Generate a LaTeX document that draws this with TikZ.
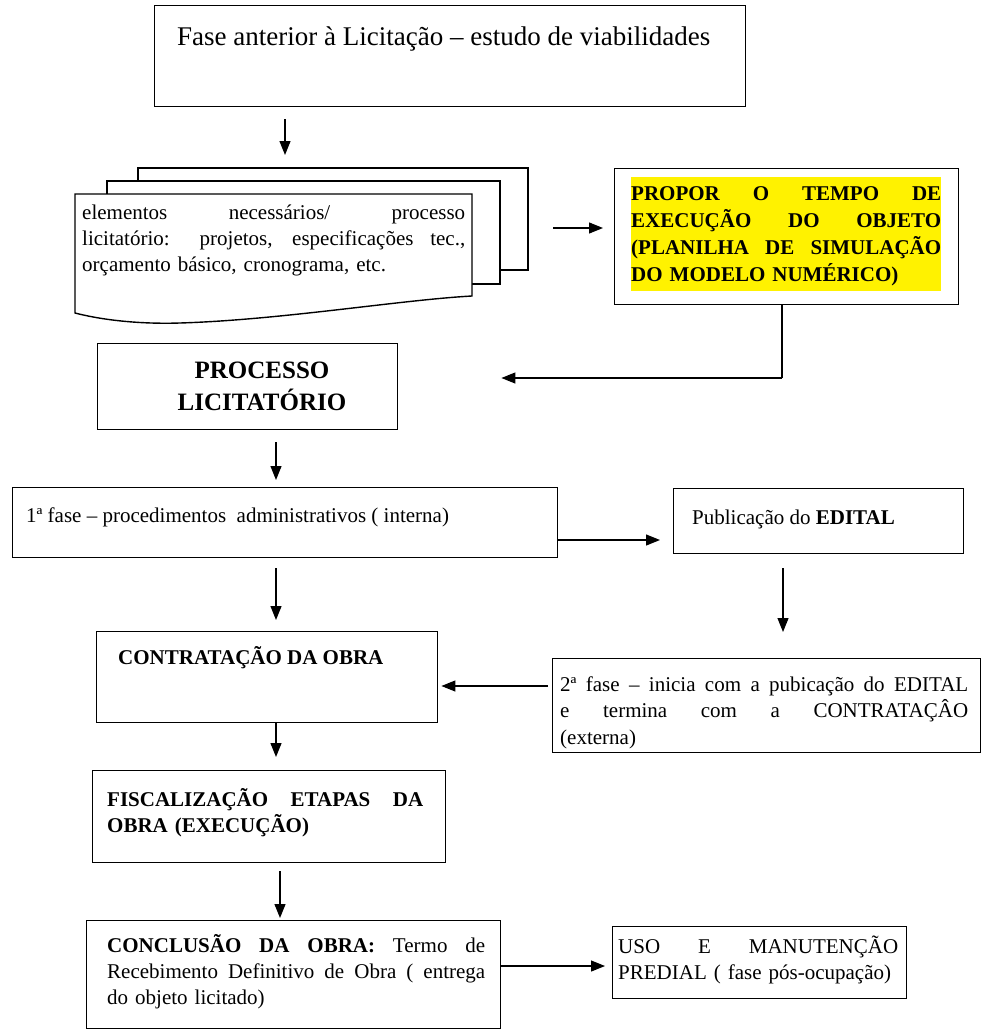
\documentclass[tikz,border=0pt]{standalone}
\usepackage{fontspec}
\setmainfont{Liberation Serif}
\usetikzlibrary{arrows.meta}

% body text size and leading
\newcommand\fsz{\fontsize{21pt}{26pt}\selectfont}
% strut fixing the first baseline 26pt below a text node's top
\newcommand\st{\rule{0pt}{26pt}}
% a fully justified line (restores stretchable word spaces)
\newcommand\jl[1]{{\spaceskip=0pt\xspaceskip=0pt\makebox[\hsize][s]{#1}}}

\tikzset{
  box/.style={draw, line width=1.4pt, rectangle, inner sep=0pt, anchor=north west},
  lbl/.style={inner sep=0pt, font=\fsz},
  para/.style={lbl, anchor=north west, align=left, text width=#1},
  conn/.style={line width=1.2pt},
  arr/.style={conn, -{Triangle[length=14pt,width=11pt]}},
}
% \boxat{name}{x1}{y1}{x2}{y2}: empty framed box between two corners
\newcommand\boxat[5]{\node[box, minimum width={(#4-#2)*1pt}, minimum height={(#5-#3)*1pt}] (#1) at (#2,#3) {};}

\begin{document}
\begin{tikzpicture}[x=1pt,y=-1pt]
\useasboundingbox (0,0) rectangle (982,1030);

% --- feasibility phase
\boxat{b1}{154}{5}{745}{106}
\node[lbl, anchor=base west, font=\fontsize{27pt}{30pt}\selectfont] (t1) at (177,46)
  {Fase anterior à Licitação – estudo de viabilidades};

% --- stack of documents
\node[inner sep=0pt, minimum width=453pt, minimum height=155pt, anchor=north west] (docs) at (75,168) {};
\draw[line width=1.4pt] (138,181) -- (138,168) -- (528,168) -- (528,270) -- (500,270);
\draw[line width=1.4pt] (107,194) -- (107,181) -- (500,181) -- (500,284) -- (472,284);
\draw[line width=1.4pt, fill=white] (75,194) -- (472,194) -- (472,296)
  .. controls (400,300) and (280,320) .. (180,323)
  .. controls (150,324) and (110,322) .. (75,313) -- cycle;
\node[para=383pt] (t2) at (82,193)
  {\st\jl{elementos necessários/ processo}\\
   \jl{licitatório: projetos, especificações tec.,}\\
   orçamento básico, cronograma, etc.};

% --- execution time proposal (highlighted)
\boxat{yel}{614}{168}{958}{304}
\node[para=310pt, fill=yellow, font=\fontsize{21pt}{27pt}\selectfont\bfseries] (t3) at (631,177)
  {\rule{0pt}{23pt}\jl{PROPOR O TEMPO DE}\\
   \jl{EXECUÇÃO DO OBJETO}\\
   \jl{(PLANILHA DE SIMULAÇÃO}\\
   DO MODELO NUMÉRICO)\rule[-10pt]{0pt}{10pt}};

% --- bidding process
\boxat{proc}{97}{343}{397}{429}
\node[lbl, anchor=north, align=center, font=\fontsize{25pt}{32pt}\selectfont\bfseries] (t4) at (262,352)
  {\st PROCESSO\\LICITATÓRIO};

% --- first phase / publication
\boxat{f1}{12}{487}{557}{557}
\node[lbl, anchor=base west] (t5) at (26,522)
  {1ª fase – procedimentos\ \ administrativos ( interna)};
\boxat{pub}{673}{488}{963}{553}
\node[lbl, anchor=base west] (t6) at (692,524) {Publicação do \textbf{EDITAL}};

% --- second phase
\boxat{f2}{552}{658}{980}{752}
\node[para=408pt, font=\fontsize{21pt}{26.5pt}\selectfont] (t7) at (560,665)
  {\st\jl{2ª fase – inicia com a pubicação do EDITAL}\\
   \jl{e termina com a CONTRATAÇÂO}\\
   (externa)};

% --- contract
\boxat{contr}{96}{631}{437}{722}
\node[lbl, anchor=base west, font=\fsz\bfseries] (t8) at (118,664) {CONTRATAÇÃO DA OBRA};

% --- supervision
\boxat{fisc}{92}{770}{445}{862}
\node[para=316pt, font=\fsz\bfseries] (t9) at (107,780)
  {\st\jl{FISCALIZAÇÃO ETAPAS DA}\\
   OBRA (EXECUÇÃO)};

% --- conclusion
\boxat{concl}{86}{920}{500}{1028}
\node[para=378pt] (t10) at (107,926)
  {\st\jl{\textbf{CONCLUSÃO DA OBRA:} Termo de}\\
   \jl{Recebimento Definitivo de Obra ( entrega}\\
   do objeto licitado)};

% --- use and maintenance
\boxat{uso}{612}{926}{906}{998}
\node[para=280pt] (t11) at (618,927)
  {\st\jl{USO E MANUTENÇÃO}\\
   PREDIAL ( fase pós-ocupação)};

% --- connectors
\coordinate (xa) at (285,0);
\coordinate (xb) at (276,0);
\coordinate (xc) at (783,0);
\coordinate (xd) at (280,0);
\coordinate (ya) at (0,228);
\coordinate (yb) at (0,540);
\coordinate (yc) at (0,686);
\coordinate (yd) at (0,966);
\coordinate (k) at (782,378);

\draw[arr, shorten <=12pt, shorten >=13pt] (b1.south -| xa) -- (docs.north -| xa);
\draw[arr, shorten <=25pt, shorten >=11pt] (docs.east |- ya) -- (yel.west |- ya);
\draw[conn] (yel.south -| k) -- (k);
\draw[arr, shorten >=103pt] (k) -- (proc.east |- k);
\draw[arr, shorten <=12pt, shorten >=7pt] (proc.south -| xb) -- (f1.north -| xb);
\draw[arr, shorten >=13pt] (f1.east |- yb) -- (pub.west |- yb);
\draw[arr, shorten <=14pt, shorten >=26pt] (pub.south -| xc) -- (f2.north -| xc);
\draw[arr, shorten <=4pt, shorten >=3pt] (f2.west |- yc) -- (contr.east |- yc);
\draw[arr, shorten <=10pt, shorten >=11pt] (f1.south -| xb) -- (contr.north -| xb);
\draw[arr, shorten >=13pt] (contr.south -| xb) -- (fisc.north -| xb);
\draw[arr, shorten <=8pt, shorten >=2pt] (fisc.south -| xd) -- (concl.north -| xd);
\draw[arr, shorten >=7pt] (concl.east |- yd) -- (uso.west |- yd);
\end{tikzpicture}
\end{document}
